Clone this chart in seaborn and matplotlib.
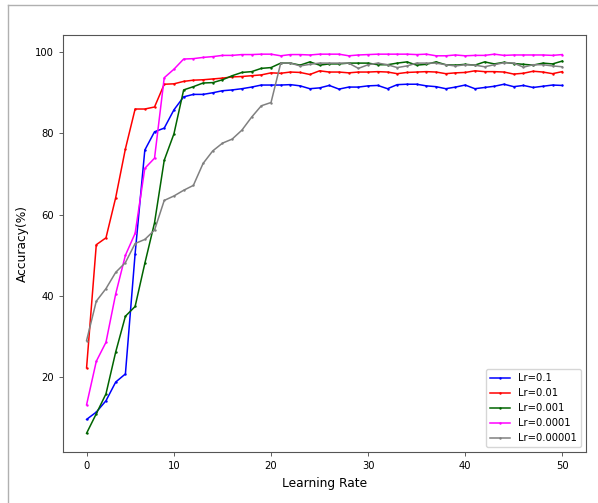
import numpy as np
import matplotlib
matplotlib.use("Agg")
import matplotlib.pyplot as plt
import seaborn as sns
from matplotlib.lines import Line2D

# epochs (the tick labelled 0 sits on the first point)
epochs = list(range(1, 51))

lr_0_1 = [9.6, 11.4, 14.2, 18.8, 20.8, 50.4, 75.9, 80.4, 81.3, 85.8,
          89.0, 89.6, 89.6, 90.0, 90.5, 90.7, 91.0, 91.4, 91.9, 91.9,
          91.9, 92.0, 91.7, 91.0, 91.2, 91.8, 90.9, 91.4, 91.4, 91.7,
          91.8, 91.0, 92.0, 92.1, 92.1, 91.7, 91.5, 91.0, 91.4, 91.9,
          91.0, 91.3, 91.6, 92.1, 91.5, 91.8, 91.3, 91.6, 91.9, 91.8]

lr_0_01 = [22.3, 52.6, 54.3, 64.2, 76.2, 86.0, 86.0, 86.5, 92.1, 92.2,
           92.8, 93.1, 93.2, 93.4, 93.6, 93.9, 94.0, 94.2, 94.4, 94.9,
           94.8, 95.1, 95.0, 94.5, 95.4, 95.1, 95.1, 94.9, 95.1, 95.1,
           95.2, 95.1, 94.7, 95.0, 95.1, 95.2, 95.1, 94.7, 94.9, 95.0,
           95.4, 95.2, 95.2, 95.1, 94.6, 94.8, 95.3, 95.1, 94.7, 95.2]

lr_0_001 = [6.2, 11.0, 15.9, 26.2, 35.0, 37.4, 48.0, 58.0, 73.4, 79.9,
            90.7, 91.5, 92.4, 92.5, 93.2, 94.2, 95.0, 95.2, 96.0, 96.2,
            97.3, 97.3, 96.8, 97.6, 96.8, 97.1, 97.1, 97.3, 97.3, 97.3,
            96.9, 96.9, 97.3, 97.6, 96.8, 97.0, 97.6, 96.9, 96.8, 97.0,
            96.8, 97.6, 97.1, 97.5, 97.2, 97.0, 96.8, 97.3, 97.1, 97.8]

lr_0_0001 = [13.2, 23.9, 28.6, 40.5, 50.0, 55.4, 71.4, 73.9, 93.7, 95.8,
             98.3, 98.4, 98.7, 98.9, 99.2, 99.2, 99.4, 99.4, 99.5, 99.5,
             99.1, 99.4, 99.4, 99.3, 99.5, 99.5, 99.5, 99.1, 99.3, 99.4,
             99.5, 99.5, 99.5, 99.5, 99.4, 99.5, 99.1, 99.1, 99.3, 99.1,
             99.2, 99.2, 99.5, 99.2, 99.3, 99.3, 99.3, 99.3, 99.2, 99.4]

lr_0_00001 = [29.0, 38.7, 41.8, 45.8, 48.2, 52.9, 53.9, 56.2, 63.5, 64.6,
              66.0, 67.2, 72.6, 75.7, 77.6, 78.6, 80.8, 84.0, 86.8, 87.6,
              97.3, 97.3, 96.6, 97.0, 97.3, 97.3, 97.3, 97.3, 96.0, 96.9,
              97.3, 96.9, 96.2, 96.6, 97.3, 97.3, 97.3, 96.9, 96.6, 96.9,
              96.8, 96.4, 96.9, 97.4, 97.3, 96.3, 96.9, 96.9, 96.6, 96.4]

labels = ["Lr=0.1", "Lr=0.01", "Lr=0.001", "Lr=0.0001", "Lr=0.00001"]
colors = ["blue", "red", "darkgreen", "magenta", "gray"]
series = [lr_0_1, lr_0_01, lr_0_001, lr_0_0001, lr_0_00001]

tick_pos = [1, 10, 20, 30, 40, 50]
tick_lab = ["0", "10", "20", "30", "40", "50"]

fig, ax = plt.subplots(figsize=(5.98, 5.03), dpi=100)
fig.subplots_adjust(left=0.105, right=0.980, top=0.930, bottom=0.101)

for vals, lab, col in zip(series, labels, colors):
    sns.lineplot(x=epochs, y=vals, ax=ax, color=col, label=lab,
                 marker=".", markersize=3.5, markeredgewidth=0, linewidth=1.1)

ax.set_xticks(tick_pos)
ax.set_xticklabels(tick_lab)
ax.tick_params(labelsize=7.2, width=0.6, length=3, color="#444444")
ax.set_xlabel("Learning Rate", fontsize=8.8)
ax.set_ylabel("Accuracy(%)", fontsize=8.8)
for s in ax.spines.values():
    s.set_color("#555555")
    s.set_linewidth(0.8)

leg = ax.legend(loc="lower right", fontsize=7.2, handlelength=2.0,
                edgecolor="#cccccc")

# outer frame of the screenshot
fig.add_artist(Line2D([8 / 598, 1.0], [1 - 5 / 503, 1 - 5 / 503],
                      transform=fig.transFigure, color="#b0b0b0", lw=1))
fig.add_artist(Line2D([8 / 598, 8 / 598], [0.0, 1 - 5 / 503],
                      transform=fig.transFigure, color="#b0b0b0", lw=1))

fig.savefig("out.png", dpi=100)
